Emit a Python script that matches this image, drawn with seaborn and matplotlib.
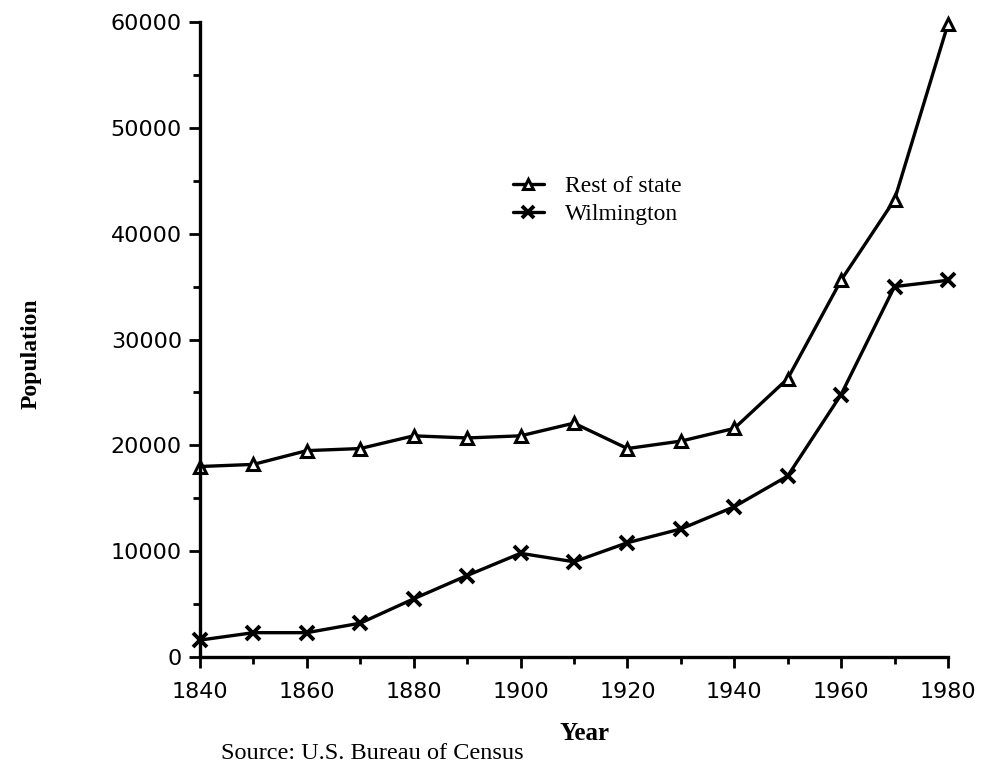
import matplotlib
matplotlib.use("Agg")
import matplotlib.pyplot as plt
import seaborn as sns
from matplotlib.ticker import MultipleLocator

years = [1840, 1850, 1860, 1870, 1880, 1890, 1900, 1910, 1920, 1930, 1940, 1950, 1960, 1970, 1980]
rest_of_state = [18000, 18200, 19500, 19700, 20900, 20700, 20900, 22100, 19700, 20400, 21600, 26300, 35600, 43200, 59800]
wilmington = [1600, 2300, 2300, 3200, 5500, 7700, 9800, 9000, 10800, 12100, 14200, 17100, 24800, 35000, 35600]

sns.set_theme(style="ticks")
plt.rcParams["font.family"] = ["DejaVu Sans"]
plt.rcParams["text.color"] = "black"
serif = ["Liberation Serif", "DejaVu Serif"]

fig = plt.figure(figsize=(9.86, 7.78), dpi=100)
ax = fig.add_axes([0.2028, 0.1555, 0.7586, 0.8162])

sns.lineplot(x=years, y=rest_of_state, ax=ax, color="black", linewidth=2.4,
             marker="^", markersize=9, markerfacecolor="white", markeredgecolor="black",
             markeredgewidth=2.2, label="Rest of state", clip_on=False)
sns.lineplot(x=years, y=wilmington, ax=ax, color="black", linewidth=2.4,
             marker="x", markersize=10, markeredgecolor="black", markeredgewidth=2.8,
             label="Wilmington", clip_on=False)

ax.set_xlim(1840, 1980)
ax.set_ylim(0, 60000)
ax.xaxis.set_major_locator(MultipleLocator(20))
ax.xaxis.set_minor_locator(MultipleLocator(10))
ax.yaxis.set_major_locator(MultipleLocator(10000))
ax.yaxis.set_minor_locator(MultipleLocator(5000))
ax.tick_params(which="major", length=8, width=2, color="black", labelcolor="black", labelsize=16)
ax.tick_params(which="minor", length=5, width=2, color="black")
ax.tick_params(axis="x", pad=10)
ax.tick_params(axis="y", pad=5)
for s in ["top", "right"]:
    ax.spines[s].set_visible(False)
for s in ["left", "bottom"]:
    ax.spines[s].set_linewidth(2.4)
    ax.spines[s].set_color("black")
ax.set_xlabel("")
ax.set_ylabel("")

fig.text(0.593, 0.057, "Year", family=serif, fontweight="bold", fontsize=18,
         color="black", ha="center", va="center")
fig.text(0.032, 0.545, "Population", family=serif, fontweight="bold", fontsize=17,
         color="black", rotation=90, ha="center", va="center")
fig.text(0.224, 0.032, "Source: U.S. Bureau of Census", family=serif, fontsize=17.5,
         color="black", ha="left", va="center")

leg = ax.legend(loc="upper left", bbox_to_anchor=(0.39, 0.792), frameon=False,
                prop={"family": serif, "size": 17}, handlelength=1.3, handletextpad=0.9,
                labelspacing=0.3, markerscale=0.85)
for t in leg.get_texts():
    t.set_color("black")

fig.savefig("out.png", dpi=100)
